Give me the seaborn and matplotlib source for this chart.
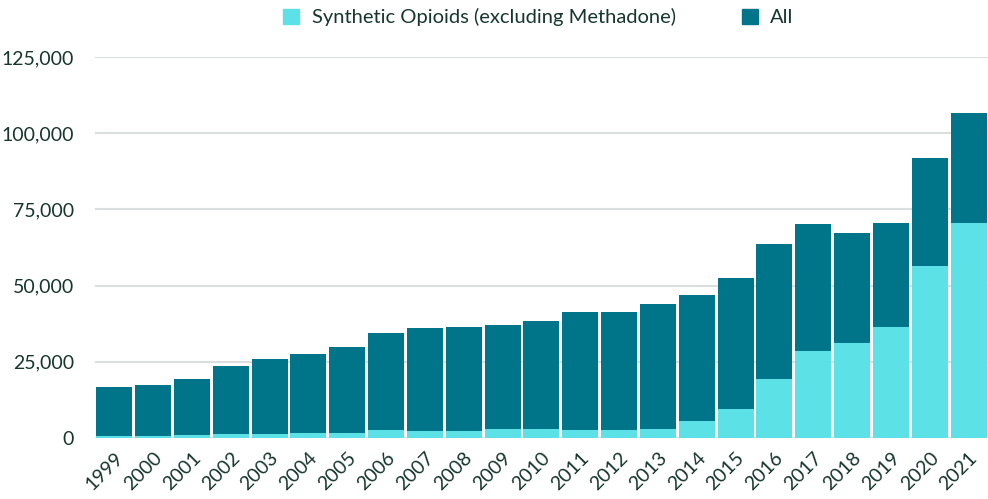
import matplotlib
matplotlib.use("Agg")
import matplotlib.pyplot as plt
import seaborn as sns
import pandas as pd
from matplotlib.patches import Patch
from matplotlib.ticker import FuncFormatter

years = [str(y) for y in range(1999, 2022)]
all_deaths = [16849, 17415, 19394, 23518, 25785, 27424, 29813, 34425, 36010, 36450,
              37004, 38329, 41340, 41502, 43982, 47055, 52404, 63632, 70237, 67367,
              70630, 91799, 106699]
synthetic = [730, 782, 957, 1295, 1400, 1664, 1742, 2707, 2213, 2306, 2946, 3007,
             2666, 2628, 3105, 5544, 9580, 19413, 28466, 31335, 36359, 56516, 70601]

sns.set_theme(style="white")
plt.rcParams['font.family'] = ['Lato', 'DejaVu Sans']

text_color = "#16362e"
c_all = "#007589"
c_syn = "#5ce1e6"

df = pd.DataFrame({"year": years, "All": all_deaths, "Synthetic": synthetic})

fig = plt.figure(figsize=(9.88, 4.99), dpi=100)
ax = fig.add_axes([0.096, 0.122, 0.904, 0.764])

sns.barplot(data=df, x="year", y="All", color=c_all, ax=ax, width=0.93,
            linewidth=0, saturation=1)
sns.barplot(data=df, x="year", y="Synthetic", color=c_syn, ax=ax, width=0.93,
            linewidth=0, saturation=1)

ax.set_ylim(0, 125000)
ax.set_xlim(-0.5, len(years) - 0.5)
ax.set_yticks([0, 25000, 50000, 75000, 100000, 125000])
ax.yaxis.set_major_formatter(FuncFormatter(lambda v, p: f"{int(v):,}"))
ax.grid(axis="y", color="#d9dfde", linewidth=1.5)
ax.set_axisbelow(True)
for s in ax.spines.values():
    s.set_visible(False)
ax.set_xlabel("")
ax.set_ylabel("")
ax.tick_params(axis="y", labelsize=14, labelcolor=text_color, length=0, pad=15)
ax.tick_params(axis="x", labelsize=14, labelcolor=text_color, length=0, pad=8)
for lab in ax.get_xticklabels():
    lab.set_rotation(45)
    lab.set_ha("right")
    lab.set_rotation_mode("anchor")

handles = [Patch(color=c_syn, label="Synthetic Opioids (excluding Methadone)"),
           Patch(color=c_all, label="All")]
fig.legend(handles=handles, loc="upper center", bbox_to_anchor=(0.545, 1.02), ncol=2,
           frameon=False, fontsize=14.5, labelcolor=text_color, handlelength=0.8,
           handleheight=0.8, columnspacing=3.3, handletextpad=0.6)

fig.savefig("out.png", dpi=100)
